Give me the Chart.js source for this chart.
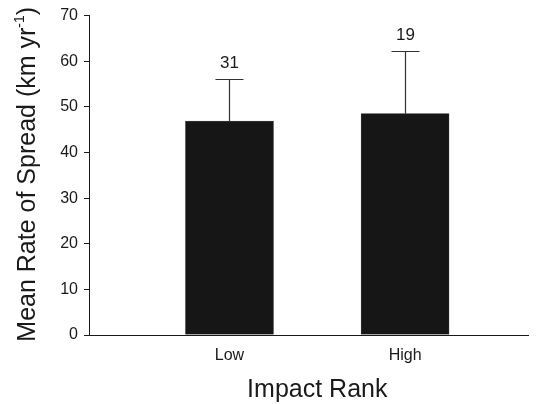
<!DOCTYPE html>
<html>
<head>
<meta charset="utf-8">
<script src="https://cdn.jsdelivr.net/npm/chart.js@4/dist/chart.umd.min.js"></script>
<style>
  html, body { margin: 0; padding: 0; background: #fff; }
  #chart { display: block; }
</style>
</head>
<body>
<canvas id="chart" width="544" height="404"></canvas>
<script>
// values
const categories = ['Low', 'High'];
const meanRate = [46.9, 48.5];      // km/yr
const errorUpper = [9.1, 13.8];     // upper error bar length
const sampleSizes = [31, 19];       // n shown above the bars
const yTicks = [0, 10, 20, 30, 40, 50, 60, 70];

const FONT = "'Liberation Sans', Arial, Helvetica, sans-serif";
const INK = '#1a1a1a';

// error bars + sample size labels + axis titles
const extras = {
  id: 'extras',
  afterDatasetsDraw(chart) {
    const { ctx, scales: { x, y } } = chart;
    ctx.save();
    ctx.strokeStyle = '#333';
    ctx.lineWidth = 1.2;
    ctx.fillStyle = INK;
    ctx.font = '17px ' + FONT;
    ctx.textAlign = 'center';
    ctx.textBaseline = 'alphabetic';
    categories.forEach((c, i) => {
      const px = Math.round(x.getPixelForValue(i + 1)) + 0.5;
      const top = y.getPixelForValue(meanRate[i]);
      const end = Math.round(y.getPixelForValue(meanRate[i] + errorUpper[i])) + 0.5;
      ctx.beginPath();
      ctx.moveTo(px, top);
      ctx.lineTo(px, end);
      ctx.moveTo(px - 14, end);
      ctx.lineTo(px + 14, end);
      ctx.stroke();
      ctx.fillText(String(sampleSizes[i]), px, end - 12);
    });
    ctx.restore();
  },
  afterDraw(chart) {
    const { ctx, chartArea, scales: { x } } = chart;
    ctx.save();
    ctx.fillStyle = INK;
    ctx.textBaseline = 'alphabetic';

    // x title, centred between the two bars
    ctx.font = '25px ' + FONT;
    ctx.textAlign = 'center';
    ctx.fillText('Impact Rank', x.getPixelForValue(1.5), 397);

    // y title with superscript
    const main = 'Mean Rate of Spread (km yr';
    const sup = '-1';
    const close = ')';
    ctx.font = '25px ' + FONT;
    const wMain = ctx.measureText(main).width;
    const wClose = ctx.measureText(close).width;
    ctx.font = '14px ' + FONT;
    const wSup = ctx.measureText(sup).width;
    const total = wMain + wSup + wClose;
    const cy = (chartArea.top + chartArea.bottom) / 2 - 1;
    ctx.translate(35, cy);
    ctx.rotate(-Math.PI / 2);
    ctx.textAlign = 'left';
    let cx = -total / 2;
    ctx.font = '25px ' + FONT;
    ctx.fillText(main, cx, 0);
    cx += wMain;
    ctx.font = '14px ' + FONT;
    ctx.fillText(sup, cx, -11);
    cx += wSup;
    ctx.font = '25px ' + FONT;
    ctx.fillText(close, cx, 0);
    ctx.restore();
  }
};

new Chart(document.getElementById('chart'), {
  type: 'bar',
  data: {
    datasets: [{
      data: categories.map((c, i) => ({ x: i + 1, y: meanRate[i] })),
      backgroundColor: '#161616',
      borderColor: '#555',
      borderWidth: 0.5,
      barThickness: 88
    }]
  },
  options: {
    responsive: false,
    animation: false,
    layout: { padding: { left: 0, top: 15, right: 16, bottom: 0 } },
    plugins: {
      legend: { display: false },
      tooltip: { enabled: false }
    },
    scales: {
      x: {
        type: 'linear',
        offset: false,
        min: 0.2,
        max: 2.7,
        afterBuildTicks: s => { s.ticks = categories.map((c, i) => ({ value: i + 1 })); },
        afterFit: s => { s.height = 69; },
        grid: { display: true, drawOnChartArea: false, drawTicks: false },
        border: { display: true, color: INK, width: 1 },
        ticks: {
          padding: 11,
          color: INK,
          font: { family: FONT, size: 16 },
          callback: v => categories[v - 1]
        }
      },
      y: {
        min: 0,
        max: 70,
        afterBuildTicks: s => { s.ticks = yTicks.map(v => ({ value: v })); },
        afterFit: s => { s.width = 89; },
        grid: { drawOnChartArea: false, drawTicks: true, tickLength: 5, color: INK },
        border: { display: true, color: INK, width: 1 },
        ticks: {
          padding: 6,
          color: INK,
          font: { family: FONT, size: 16 }
        }
      }
    }
  },
  plugins: [extras]
});
</script>
</body>
</html>
